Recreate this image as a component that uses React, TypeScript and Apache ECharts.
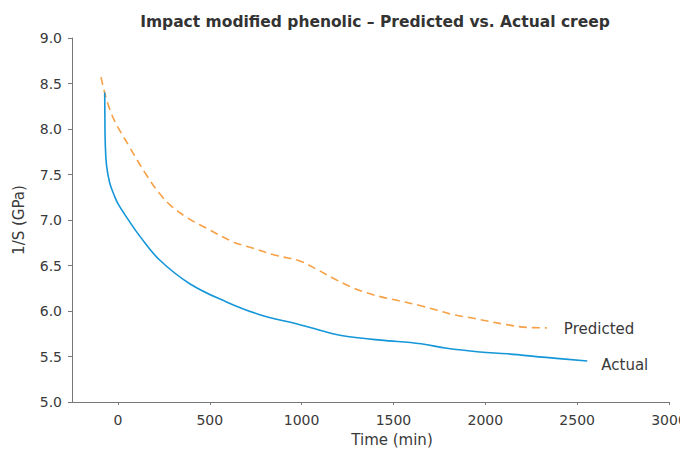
import React, { useEffect, useRef } from "react";
import * as echarts from "echarts";

// Time (min) and 1/S (GPa) readings for the measured creep curve
const actualTime = [-72, -71, -69, -62, -45, -20, 0, 54, 120, 227, 391, 591, 772, 990, 1170, 1250, 1430, 1650, 1790, 1970, 2120, 2330, 2555];
const actualValue = [8.4, 8.15, 7.85, 7.6, 7.41, 7.27, 7.18, 7.01, 6.82, 6.56, 6.3, 6.1, 5.96, 5.85, 5.75, 5.72, 5.68, 5.64, 5.59, 5.55, 5.53, 5.49, 5.45];

// Time (min) and 1/S (GPa) for the predicted creep curve
const predictedTime = [-92, -36, 64, 163, 227, 282, 373, 482, 627, 736, 863, 990, 1081, 1172, 1263, 1354, 1444, 1535, 1644, 1735, 1826, 1935, 2117, 2226, 2335];
const predictedValue = [8.57, 8.17, 7.8, 7.47, 7.29, 7.17, 7.03, 6.91, 6.76, 6.69, 6.61, 6.55, 6.46, 6.36, 6.27, 6.2, 6.15, 6.11, 6.06, 6.01, 5.96, 5.92, 5.85, 5.82, 5.815];

const xTicks = [0, 500, 1000, 1500, 2000, 2500, 3000];

const FONT = "DejaVu Sans";
const TEXT = "#3a3a3a";
const AXIS = "#777777";

const pairs = (xs: number[], ys: number[]) => xs.map((x, i) => [x, ys[i]]);

export default function App() {
  const ref = useRef<HTMLDivElement>(null);

  useEffect(() => {
    if (!ref.current) return;
    const chart = echarts.init(ref.current, null, { renderer: "svg" });
    chart.setOption({
      animation: false,
      backgroundColor: "#ffffff",
      title: {
        text: "Impact modified phenolic \u2013 Predicted vs. Actual creep",
        left: 362,
        top: 1,
        textAlign: "center",
        textStyle: { fontFamily: FONT, fontSize: 15.5, fontWeight: "bold", color: "#333333" },
      },
      grid: { left: 64, right: 19, top: 30, bottom: 57, containLabel: false, outerBoundsMode: "none" },
      xAxis: {
        type: "value",
        min: -250,
        max: 3000,
        axisLine: { show: true, onZero: false, lineStyle: { color: AXIS, width: 1 } },
        axisTick: { show: true, length: 3, customValues: xTicks, lineStyle: { color: AXIS } },
        axisLabel: {
          customValues: xTicks,
          margin: 11,
          fontFamily: FONT,
          fontSize: 14,
          color: TEXT,
          formatter: (v: number) => String(v),
        },
        splitLine: { show: false },
      },
      yAxis: {
        type: "value",
        min: 5,
        max: 9,
        interval: 0.5,
        name: "1/S (GPa)",
        nameLocation: "middle",
        nameGap: 46,
        nameTextStyle: { fontFamily: FONT, fontSize: 15, color: TEXT },
        axisLine: { show: true, onZero: false, lineStyle: { color: AXIS, width: 1 } },
        axisTick: { show: true, length: 4, lineStyle: { color: AXIS } },
        axisLabel: {
          margin: 10,
          fontFamily: FONT,
          fontSize: 14,
          color: TEXT,
          formatter: (v: number) => v.toFixed(1),
        },
        splitLine: { show: false },
      },
      graphic: [
        {
          type: "text",
          x: 384,
          y: 432,
          style: {
            text: "Time (min)",
            fontFamily: FONT,
            fontSize: 15,
            fill: TEXT,
            textAlign: "center",
            textVerticalAlign: "middle",
          },
        },
      ],
      series: [
        {
          name: "Predicted",
          type: "line",
          data: pairs(predictedTime, predictedValue),
          smooth: 0.4,
          showSymbol: false,
          lineStyle: { color: "#f7a046", width: 1.6, type: [8, 5] },
          endLabel: {
            show: true,
            formatter: "Predicted",
            distance: 17,
            offset: [0, 1],
            fontFamily: FONT,
            fontSize: 15,
            color: TEXT,
          },
        },
        {
          name: "Actual",
          type: "line",
          data: pairs(actualTime, actualValue),
          smooth: 0.4,
          showSymbol: false,
          lineStyle: { color: "#1496d8", width: 1.6 },
          endLabel: {
            show: true,
            formatter: "Actual",
            distance: 14,
            offset: [0, 4],
            fontFamily: FONT,
            fontSize: 15,
            color: TEXT,
          },
        },
      ],
    });
    return () => chart.dispose();
  }, []);

  return <div ref={ref} style={{ width: 680, height: 451 }} />;
}
